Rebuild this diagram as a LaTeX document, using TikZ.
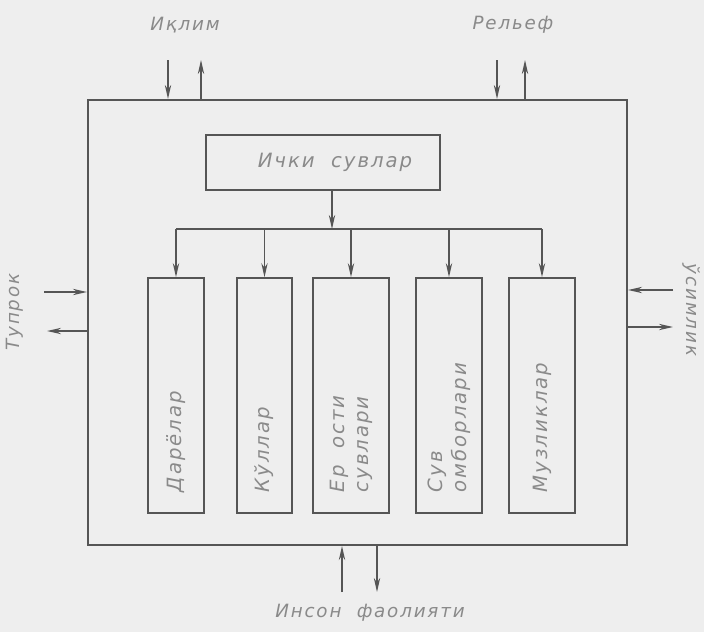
\documentclass[tikz,border=0pt]{standalone}
\usepackage{fontspec}
\setmainfont{DejaVu Sans}[LetterSpace=10]
\usetikzlibrary{arrows.meta}

\definecolor{ink}{HTML}{555555}
\definecolor{pencil}{HTML}{8A8A8A}
\definecolor{paper}{HTML}{EEEEEE}

\tikzset{
  part/.style={draw=ink, line width=1.1pt, inner sep=0pt},
  lbl/.style={text=pencil, font=\itshape\fontsize{13}{15}\selectfont, inner sep=1pt},
  blbl/.style={lbl, font=\itshape\fontsize{14}{17}\selectfont},
  flow/.style={draw=ink, line width=1.1pt, -{Stealth[length=10pt,width=4.5pt]}},
}

\begin{document}
\begin{tikzpicture}[x=0.025cm, y=-0.025cm]

% The page
\fill[paper] (0,0) rectangle (704,632);
\useasboundingbox (0,0) rectangle (704,632);

% The system and the inner water
\node[part, line width=1.4pt, minimum width=13.475cm, minimum height=11.125cm] (sys) at (357.5,322.5) {};
\node[part, minimum width=5.85cm, minimum height=1.375cm] (ichki) at (323,162.5) {};
\node[blbl] (t-ichki) at ([xshift=0.3cm]ichki.center) {Ички~ сувлар};

% The five kinds of water
\node[part, minimum width=1.4cm, minimum height=5.875cm] (dar) at (176,395.5) {};
\node[part, minimum width=1.375cm, minimum height=5.875cm] (kul) at (264.5,395.5) {};
\node[part, minimum width=1.9cm, minimum height=5.875cm] (yer) at (351,395.5) {};
\node[part, minimum width=1.65cm, minimum height=5.875cm] (suv) at (449,395.5) {};
\node[part, minimum width=1.65cm, minimum height=5.875cm] (muz) at (542,395.5) {};

\node[blbl, rotate=90, anchor=west] (t-dar) at ([yshift=0.5cm]dar.south) {Дарёлар};
\node[blbl, rotate=90, anchor=west] (t-kul) at ([yshift=0.5cm]kul.south) {Кўллар};
\node[blbl, rotate=90, anchor=west, align=left] (t-yer) at ([yshift=0.5cm]yer.south) {Ер ~ости\\сувлари};
\node[blbl, rotate=90, anchor=west, align=left] (t-suv) at ([yshift=0.5cm]suv.south) {Сув\\омборлари};
\node[blbl, rotate=90, anchor=west] (t-muz) at ([yshift=0.5cm]muz.south) {Музликлар};

% The branching
\coordinate (bus) at (332,229);
\draw[flow] (bus |- ichki.south) -- (bus);
\draw[draw=ink, line width=1.1pt] (dar.north |- bus) -- (muz.north |- bus);
\foreach \b in {dar,kul,yer,suv,muz}
  \draw[flow] (bus -| \b.north) -- (\b.north);

% Outside factors
\node[lbl] (iqlim) at (185,25) {Иқлим};
\node[lbl] (relef) at (513,25) {Рельеф};
\node[lbl, rotate=90] (tuprok) at (15,312) {Тупрок};
\node[lbl, rotate=-90] (usimlik) at (692,310) {ўсимлик};
\node[lbl] (inson) at (370,613) {Инсон~ фаолияти};

% Arrows in and out
\coordinate (iq-in) at (168,60);
\coordinate (iq-out) at (201,60);
\coordinate (re-in) at (497,60);
\coordinate (re-out) at (525,60);
\coordinate (tu-in) at (44,292);
\coordinate (tu-out) at (47,331);
\coordinate (us-in) at (673,290);
\coordinate (us-out) at (673,327);
\coordinate (in-in) at (342,592);
\coordinate (in-out) at (377,592);

\draw[flow] (iq-in) -- (iq-in |- sys.north);
\draw[flow] (iq-out |- sys.north) -- (iq-out);
\draw[flow] (re-in) -- (re-in |- sys.north);
\draw[flow] (re-out |- sys.north) -- (re-out);
\draw[flow] (tu-in) -- (tu-in -| sys.west);
\draw[flow] (tu-out -| sys.west) -- (tu-out);
\draw[flow] (us-in) -- (us-in -| sys.east);
\draw[flow] (us-out -| sys.east) -- (us-out);
\draw[flow] (in-in) -- (in-in |- sys.south);
\draw[flow] (in-out |- sys.south) -- (in-out);

\end{tikzpicture}
\end{document}
